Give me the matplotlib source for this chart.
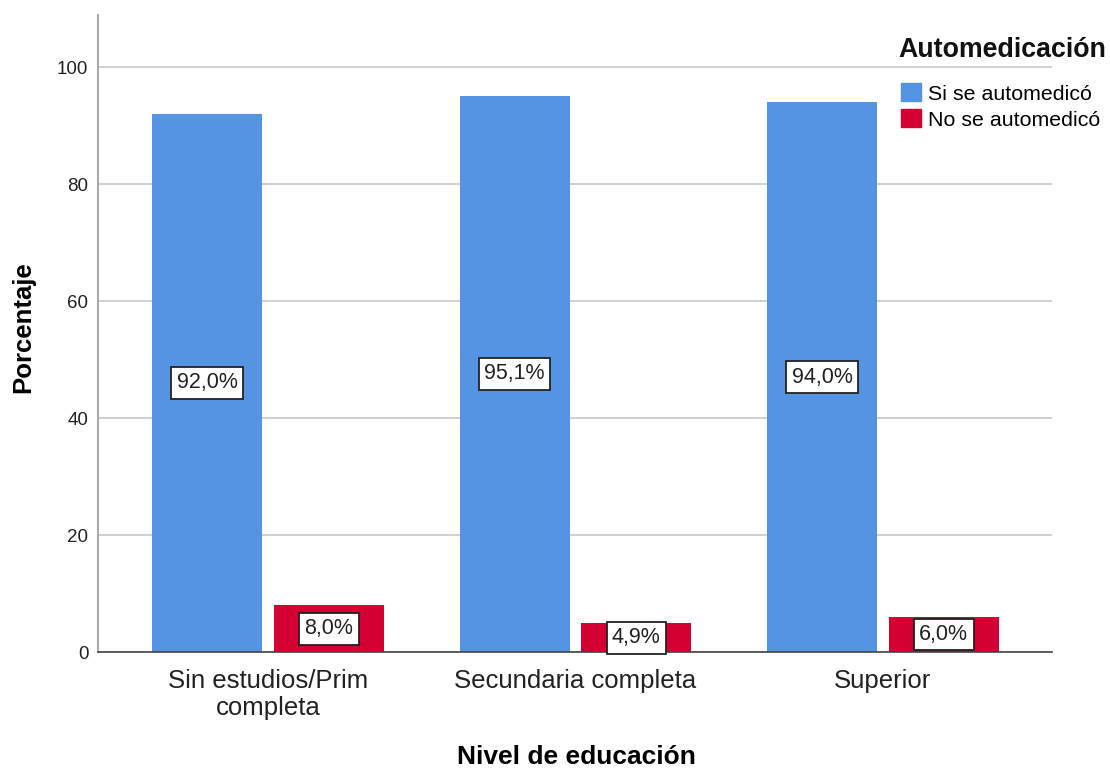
import matplotlib.pyplot as plt
import numpy as np
from matplotlib.patches import Patch

plt.rcParams['font.family'] = ['Liberation Sans', 'DejaVu Sans']

# datos
categorias = ['Sin estudios/Prim\ncompleta', 'Secundaria completa', 'Superior']
si_automedico = [92.0, 95.1, 94.0]
no_automedico = [8.0, 4.9, 6.0]
series = ['Si se automedicó', 'No se automedicó']
colores = ['#5594E3', '#D40032']

fig = plt.figure(figsize=(11.1, 7.7), dpi=100)
ax = fig.add_axes([0.0883, 0.1532, 0.8594, 0.8273])

x = np.arange(len(categorias))
ancho = 0.358
desp = 0.198

b1 = ax.bar(x - desp, si_automedico, ancho, color=colores[0], zorder=2)
b2 = ax.bar(x + desp, no_automedico, ancho, color=colores[1], zorder=2)

# etiquetas dentro de las barras
for barras, valores in [(b1, si_automedico), (b2, no_automedico)]:
    for b, v in zip(barras, valores):
        ax.text(b.get_x() + b.get_width() / 2, v / 2, f'{v:.1f}%'.replace('.', ','),
                ha='center', va='center', fontsize=15.5, color='#222222', zorder=3,
                bbox=dict(boxstyle='square,pad=0.25', fc='white', ec='#222222', lw=1.3))

ax.set_xlim(-0.553, 2.55)
ax.set_ylim(0, 108.9)
ax.set_yticks([0, 20, 40, 60, 80, 100])
ax.set_xticks(x)
ax.set_xticklabels(categorias, fontsize=18.5, color='#222222', linespacing=1.15)
ax.tick_params(axis='x', length=0, pad=12)
ax.tick_params(axis='y', length=0, labelsize=13.5, pad=7, labelcolor='#222222')
ax.grid(axis='y', color='#c8c8c8', lw=1.2, zorder=0)

for s in ['top', 'right']:
    ax.spines[s].set_visible(False)
ax.spines['left'].set_color('#aaaaaa')
ax.spines['left'].set_linewidth(1.5)
ax.spines['bottom'].set_color('#444444')
ax.spines['bottom'].set_linewidth(1.2)

ax.set_xlabel('Nivel de educación', fontsize=19, fontweight='bold')
ax.xaxis.set_label_coords(0.502, -0.146)
ax.set_ylabel('Porcentaje', fontsize=18.5, fontweight='bold')
ax.yaxis.set_label_coords(-0.066, 0.51)

# leyenda
fig.text(898 / 1110, 1 - 50 / 770, 'Automedicación', fontsize=19.3, fontweight='bold',
         ha='left', va='center', color='#111111')
handles = [Patch(color=c) for c in colores]
fig.legend(handles=handles, labels=series, loc='upper left',
           bbox_to_anchor=(901 / 1110, 1 - 83 / 770), frameon=False, fontsize=15.4,
           handlelength=0.95, handleheight=0.95, handletextpad=0.3,
           labelspacing=0.25, borderaxespad=0, borderpad=0)

fig.savefig('out.png', dpi=100)
